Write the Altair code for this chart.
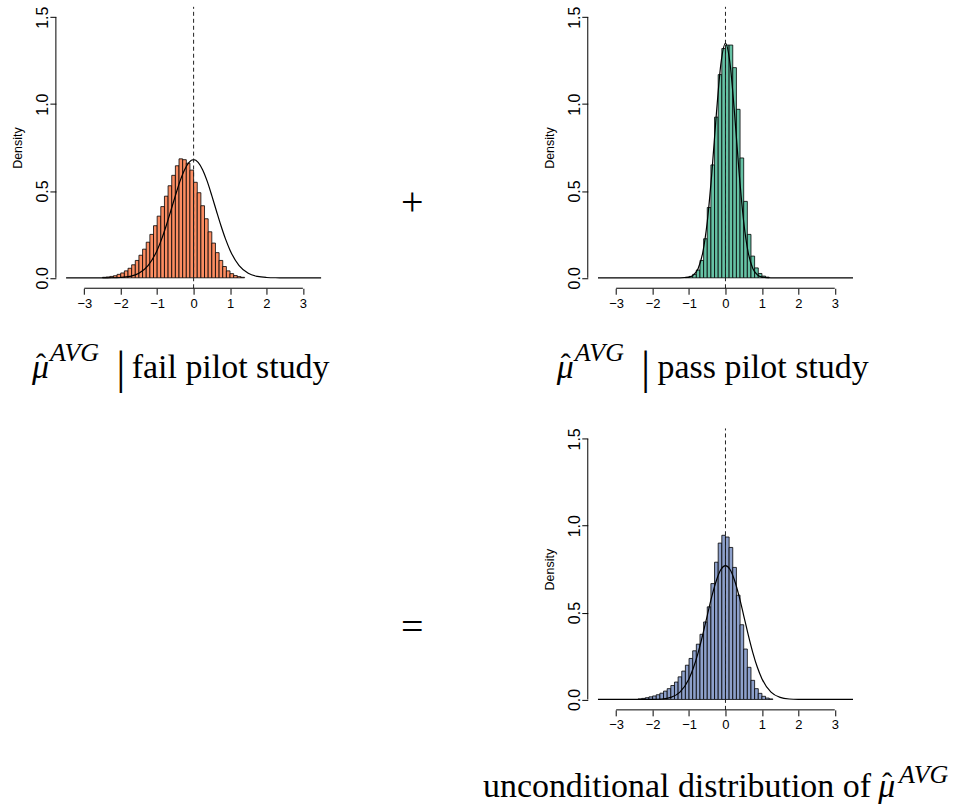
import altair as alt
import pandas as pd

# ---------------- data ----------------
BIN_WIDTH = 0.1

fail_left = [-2.5, -2.4, -2.3, -2.2, -2.1, -2.0, -1.9, -1.8, -1.7, -1.6,
             -1.5, -1.4, -1.3, -1.2, -1.1, -1.0, -0.9, -0.8, -0.7, -0.6,
             -0.5, -0.4, -0.3, -0.2, -0.1, 0.0, 0.1, 0.2, 0.3, 0.4,
             0.5, 0.6, 0.7, 0.8, 0.9, 1.0, 1.1, 1.2, 1.3]
fail_density = [0.003, 0.005, 0.008, 0.012, 0.02, 0.028, 0.04, 0.055, 0.075, 0.10,
                0.13, 0.165, 0.205, 0.25, 0.30, 0.355, 0.41, 0.47, 0.53, 0.59,
                0.645, 0.685, 0.68, 0.66, 0.62, 0.55, 0.49, 0.415, 0.34, 0.265,
                0.20, 0.145, 0.10, 0.065, 0.04, 0.024, 0.013, 0.007, 0.003]

pass_left = [-1.1, -1.0, -0.9, -0.8, -0.7, -0.6, -0.5, -0.4, -0.3, -0.2,
             -0.1, 0.0, 0.1, 0.2, 0.3, 0.4, 0.5, 0.6, 0.7, 0.8,
             0.9, 1.0, 1.1]
pass_density = [0.003, 0.008, 0.02, 0.045, 0.10, 0.225, 0.405, 0.65, 0.925, 1.17,
                1.32, 1.34, 1.34, 1.21, 0.97, 0.69, 0.44, 0.25, 0.125, 0.057,
                0.025, 0.01, 0.004]

uncond_left = [-2.4, -2.3, -2.2, -2.1, -2.0, -1.9, -1.8, -1.7, -1.6, -1.5,
               -1.4, -1.3, -1.2, -1.1, -1.0, -0.9, -0.8, -0.7, -0.6, -0.5,
               -0.4, -0.3, -0.2, -0.1, 0.0, 0.1, 0.2, 0.3, 0.4, 0.5,
               0.6, 0.7, 0.8, 0.9, 1.0, 1.1, 1.2]
uncond_density = [0.003, 0.006, 0.01, 0.015, 0.02, 0.027, 0.036, 0.048, 0.062, 0.08,
                  0.10, 0.13, 0.163, 0.197, 0.236, 0.28, 0.318, 0.375, 0.446, 0.533,
                  0.667, 0.79, 0.90, 0.945, 0.935, 0.875, 0.76, 0.60, 0.43, 0.29,
                  0.185, 0.11, 0.062, 0.035, 0.018, 0.008, 0.003]

# normal reference curves (read at these x positions)
curve_x = [-3.5, -3.0, -2.5, -2.25, -2.0, -1.75, -1.5, -1.25, -1.0, -0.875,
           -0.75, -0.625, -0.5, -0.375, -0.25, -0.125, 0.0, 0.125, 0.25, 0.375,
           0.5, 0.625, 0.75, 0.875, 1.0, 1.25, 1.5, 1.75, 2.0, 2.25,
           2.5, 3.0, 3.5]
fail_curve = [0.0, 0.0, 0.0001, 0.0004, 0.002, 0.008, 0.026, 0.070, 0.159, 0.224,
              0.301, 0.386, 0.473, 0.555, 0.621, 0.665, 0.68, 0.665, 0.621, 0.555,
              0.473, 0.386, 0.301, 0.224, 0.159, 0.070, 0.026, 0.008, 0.002, 0.0004,
              0.0001, 0.0, 0.0]
pass_curve = [0.0, 0.0, 0.0, 0.0, 0.0, 0.0, 0.0, 0.0002, 0.0044, 0.017,
              0.054, 0.144, 0.323, 0.603, 0.944, 1.234, 1.35, 1.234, 0.944, 0.603,
              0.323, 0.144, 0.054, 0.017, 0.0044, 0.0002, 0.0, 0.0, 0.0, 0.0,
              0.0, 0.0, 0.0]
uncond_curve = [0.0, 0.0, 0.0, 0.00006, 0.0004, 0.0026, 0.0117, 0.042, 0.1196, 0.185,
                0.270, 0.372, 0.483, 0.593, 0.685, 0.748, 0.77, 0.748, 0.685, 0.593,
                0.483, 0.372, 0.270, 0.185, 0.1196, 0.042, 0.0117, 0.0026, 0.0004, 0.00006,
                0.0, 0.0, 0.0]

x_ticks = [-3, -2, -1, 0, 1, 2, 3]
y_ticks = [0, 0.5, 1.0, 1.5]
X_LIM = [-3.78, 3.78]
Y_LIM = [-0.06, 1.56]

MU = "\u03bc"
HAT = "\u02c6"
label_fail = ["AVG", "|", "fail pilot study"]
label_pass = ["AVG", "|", "pass pilot study"]
label_uncond = ["unconditional distribution of", "AVG"]
plus_sign = "+"
equal_sign = "="

FILL_FAIL = "#FC8D62"
FILL_PASS = "#66C2A5"
FILL_UNCOND = "#8DA0CB"

PANEL_W = 276
PANEL_H = 282
SERIF = "Liberation Serif"
SANS = "Liberation Sans"

xs = alt.Scale(domain=X_LIM, nice=False, zero=False)
ys = alt.Scale(domain=Y_LIM, nice=False, zero=False)

X_AXIS = alt.Axis(
    values=x_ticks, format="d", domain=False, grid=False, ticks=True,
    tickSize=6, tickColor="black", tickWidth=1,
    labelFont=SANS, labelFontSize=13, labelColor="black",
    labelPadding=3, labelFlush=False, labelOverlap=False, title="")
Y_AXIS = alt.Axis(
    values=y_ticks, format=".1f", domain=False, grid=False, ticks=True,
    tickSize=6, tickColor="black", tickWidth=1,
    labelFont=SANS, labelFontSize=16, labelColor="black",
    labelAngle=270, labelAlign="center", labelBaseline="alphabetic",
    labelPadding=2, labelFlush=False, labelOverlap=False,
    title="Density", titleFont=SANS, titleFontSize=12.5,
    titleFontWeight="normal", titleColor="black", titleAngle=270,
    titleAlign="center", titleBaseline="alphabetic",
    titleX=-34.7, titleY=PANEL_H / 2)


def X(field):
    return alt.X(field, scale=xs, axis=X_AXIS)


def Y(field):
    return alt.Y(field, scale=ys, axis=Y_AXIS)


def text_layer(text, x, y, size, italic=False, align="left", baseline="alphabetic"):
    return alt.Chart(pd.DataFrame({"t": [text]})).mark_text(
        font=SERIF, fontSize=size, fontStyle="italic" if italic else "normal",
        align=align, baseline=baseline, color="black",
    ).encode(x=alt.value(x), y=alt.value(y), text="t:N")


def mu_hat(x, y):
    # italic mu with a hat accent above it
    return [text_layer(MU, x, y, 34, italic=True),
            text_layer(HAT, x + 4, y - 4, 30)]


def panel(left, dens, cy, fill, extra):
    bars = pd.DataFrame({"x0": left, "x1": [v + BIN_WIDTH for v in left],
                         "d": dens, "base": [0.0] * len(left)})
    curve = pd.DataFrame({"cx": curve_x, "cy": cy})
    bar_layer = alt.Chart(bars).mark_bar(
        fill=fill, stroke="black", strokeWidth=0.8
    ).encode(x=X("x0:Q"), x2="x1:Q", y=Y("d:Q"), y2="base:Q")
    line_layer = alt.Chart(curve).mark_line(
        color="black", strokeWidth=1.2, interpolate="monotone"
    ).encode(x=X("cx:Q"), y=Y("cy:Q"))
    vline = alt.Chart(pd.DataFrame({"x": [0.0], "y0": [Y_LIM[0]], "y1": [Y_LIM[1]]})).mark_rule(
        color="#222222", strokeWidth=1, strokeDash=[4, 3]
    ).encode(x=X("x:Q"), y=Y("y0:Q"), y2="y1:Q")
    xaxis_line = alt.Chart(pd.DataFrame({"x0": [x_ticks[0]], "x1": [x_ticks[-1]], "y": [Y_LIM[0]]})).mark_rule(
        color="black", strokeWidth=1
    ).encode(x=X("x0:Q"), x2="x1:Q", y=Y("y:Q"))
    yaxis_line = alt.Chart(pd.DataFrame({"x": [X_LIM[0]], "y0": [y_ticks[0]], "y1": [y_ticks[-1]]})).mark_rule(
        color="black", strokeWidth=1
    ).encode(x=X("x:Q"), y=Y("y0:Q"), y2="y1:Q")
    return alt.layer(bar_layer, line_layer, vline, xaxis_line, yaxis_line, *extra).properties(
        width=PANEL_W, height=PANEL_H)


def anchor(x, y):
    return alt.Chart(pd.DataFrame({"a": [0]})).mark_rule(strokeOpacity=0, color="white").encode(
        x=alt.value(x), x2=alt.value(x + 1), y=alt.value(y))


# panel 1 (fail) : view origin at page (55, 5.5)
extra1 = mu_hat(-24, 371.5) + [
    text_layer(label_fail[0], -6, 354.5, 26, italic=True),
    text_layer(label_fail[1], 65, 362.5, 46, align="center", baseline="middle"),
    text_layer(label_fail[2], 76, 371.5, 34),
    text_layer(plus_sign, 357, 197, 40, align="center", baseline="middle"),
    anchor(-55, -5.5),
]
# panel 2 (pass) : view origin at page (588, 5.5)
extra2 = mu_hat(-31, 371.5) + [
    text_layer(label_pass[0], -13, 354.5, 26, italic=True),
    text_layer(label_pass[1], 58, 362.5, 46, align="center", baseline="middle"),
    text_layer(label_pass[2], 70, 371.5, 34),
]
# panel 3 (unconditional) : view origin at page (588, 428)
extra3 = mu_hat(291, 369) + [
    text_layer(label_uncond[0], -105, 369, 34),
    text_layer(label_uncond[1], 312, 355, 26, italic=True),
    text_layer(equal_sign, -176, 200, 40, align="center", baseline="middle"),
    anchor(365, 381),
]

p1 = panel(fail_left, fail_density, fail_curve, FILL_FAIL, extra1)
p2 = panel(pass_left, pass_density, pass_curve, FILL_PASS, extra2)
p3 = panel(uncond_left, uncond_density, uncond_curve, FILL_UNCOND, extra3)

right_col = alt.vconcat(p2, p3, spacing=140.5, bounds="flush")
chart = alt.hconcat(p1, right_col, spacing=257, bounds="flush").properties(
    padding=0, background="white"
).configure_view(stroke="transparent")

chart.save("out.html", embed_options={"renderer": "svg", "actions": False})
